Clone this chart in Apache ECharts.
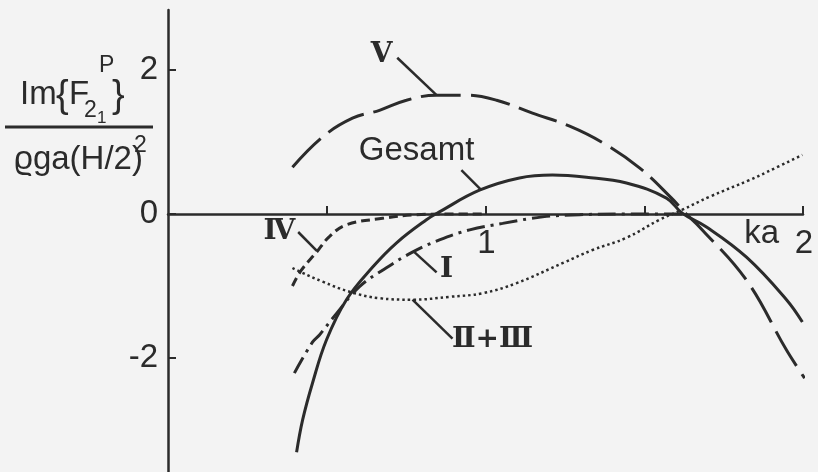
<!DOCTYPE html>
<html>
<head>
<meta charset="utf-8">
<script src="https://cdn.jsdelivr.net/npm/echarts@6/dist/echarts.min.js"></script>
<style>
  html, body { margin: 0; padding: 0; background: #f3f3f3; }
  #chart { width: 818px; height: 472px; }
</style>
</head>
<body>
<div id="chart"></div>
<script>
// Wave number ka and normalised imaginary part of the force component per contribution
const gesamtKa = [0.405, 0.424, 0.455, 0.499, 0.562, 0.644, 0.720, 0.814, 0.855, 0.981, 1.107, 1.211, 1.318, 1.444, 1.570, 1.620, 1.696, 1.822, 1.948, 1.998];
const gesamtIm = [-3.31, -2.86, -2.35, -1.75, -1.19, -0.74, -0.40, -0.08, 0.03, 0.33, 0.50, 0.54, 0.51, 0.43, 0.22, 0.01, -0.18, -0.60, -1.19, -1.50];

const vKa = [0.392, 0.487, 0.581, 0.666, 0.751, 0.846, 0.940, 1.035, 1.148, 1.265, 1.369, 1.485, 1.586, 1.630, 1.674, 1.822, 1.948, 2.005];
const vIm = [0.65, 1.07, 1.33, 1.44, 1.58, 1.65, 1.65, 1.58, 1.40, 1.22, 0.99, 0.64, 0.22, 0.01, -0.18, -0.92, -1.89, -2.28];

const ivKa = [0.392, 0.420, 0.468, 0.509, 0.562, 0.676, 0.783, 0.887, 1.0];
const ivIm = [-1.00, -0.78, -0.53, -0.31, -0.15, -0.06, -0.01, 0.0, 0.0];

const iKa = [0.398, 0.455, 0.477, 0.531, 0.603, 0.676, 0.770, 0.855, 0.950, 1.054, 1.180, 1.296, 1.422, 1.620];
const iIm = [-2.21, -1.78, -1.68, -1.38, -1.01, -0.78, -0.53, -0.36, -0.22, -0.13, -0.04, -0.01, 0.0, 0.0];

const iiiiiKa = [0.392, 0.420, 0.487, 0.572, 0.666, 0.770, 0.887, 0.991, 1.098, 1.249, 1.337, 1.444, 1.548, 1.620, 1.706, 1.831, 1.885, 1.998];
const iiiiiIm = [-0.75, -0.81, -0.94, -1.08, -1.17, -1.19, -1.15, -1.10, -0.96, -0.67, -0.50, -0.33, -0.08, 0.06, 0.24, 0.47, 0.58, 0.82];

const xTicks = [0.5, 1, 1.5, 2];
const xTickLabels = [1, 2];
const yTicks = [-2, 0, 2];

const ink = '#2b2b2b';
const sans = "'Liberation Sans', 'DejaVu Sans', sans-serif";
const roman = "'DejaVu Serif', 'Liberation Serif', serif";

const pairs = (xs, ys) => xs.map((x, i) => [x, ys[i]]);

// Curve labels with their leader lines, in data coordinates
const annotations = [
  { text: 'Ⅴ', at: [0.673, 2.21], from: [0.722, 2.17], to: [0.846, 1.65], font: roman },
  { text: 'Gesamt', at: [0.783, 0.875], from: [0.924, 0.61], to: [0.987, 0.33], font: sans },
  { text: 'Ⅳ', at: [0.351, -0.25], from: [0.410, -0.25], to: [0.468, -0.51], font: roman },
  { text: 'Ⅰ', at: [0.877, -0.78], from: [0.776, -0.53], to: [0.846, -0.81], font: roman },
  { text: 'Ⅱ+Ⅲ', at: [1.022, -1.75], from: [0.770, -1.19], to: [0.896, -1.73], font: roman }
];

const chart = echarts.init(document.getElementById('chart'), null, { renderer: 'canvas' });

const lineSeries = (name, xs, ys, type, width) => ({
  name,
  type: 'line',
  data: pairs(xs, ys),
  smooth: 0.4,
  showSymbol: false,
  silent: true,
  clip: false,
  lineStyle: { color: ink, width: width, type: type, cap: 'butt' },
  z: 3
});

chart.setOption({
  backgroundColor: '#f3f3f3',
  animation: false,
  grid: { left: 168, right: 15, top: 10, bottom: 0, containLabel: false, outerBoundsMode: 'none' },
  xAxis: {
    type: 'value',
    min: 0,
    max: 2,
    axisLine: { onZero: true, lineStyle: { color: ink, width: 2.5 } },
    axisTick: { show: true, inside: true, length: 8, customValues: xTicks, lineStyle: { color: ink, width: 2 } },
    axisLabel: { show: false },
    splitLine: { show: false }
  },
  yAxis: {
    type: 'value',
    min: -3.583,
    max: 2.833,
    axisLine: { show: true, lineStyle: { color: ink, width: 2.5 } },
    axisTick: { show: true, inside: true, length: 8, customValues: yTicks, lineStyle: { color: ink, width: 2 } },
    axisLabel: {
      customValues: yTicks, margin: 10, fontSize: 33, fontFamily: sans, color: ink,
      formatter: v => (v < 0 ? '-' + Math.abs(v) : String(v))
    },
    splitLine: { show: false }
  },
  series: [
    lineSeries('Gesamt', gesamtKa, gesamtIm, 'solid', 3),
    lineSeries('V', vKa, vIm, [40, 10], 3),
    lineSeries('IV', ivKa, ivIm, [9, 5], 3),
    lineSeries('I', iKa, iIm, [18, 6, 3, 6], 3),
    lineSeries('II+III', iiiiiKa, iiiiiIm, [2.5, 3], 2.5)
  ]
});

function drawAnnotations() {
  const px = p => chart.convertToPixel({ gridIndex: 0 }, p);
  const elements = [];
  const txt = (text, x, y, font, align) => ({
    type: 'text', silent: true, x, y,
    style: { text, fill: ink, font, align: align || 'center', verticalAlign: 'middle' }
  });

  annotations.forEach(a => {
    const c = px(a.at), f = px(a.from), t = px(a.to);
    elements.push({
      type: 'line', silent: true,
      shape: { x1: f[0], y1: f[1], x2: t[0], y2: t[1] },
      style: { stroke: ink, lineWidth: 2.5 }
    });
    elements.push(txt(a.text, c[0], c[1], (a.font === roman ? 'bold 28px ' : '33px ') + a.font));
  });

  // x tick labels sit just below the zero line
  xTickLabels.forEach(v => {
    const p = px([v, 0]);
    elements.push(txt(String(v), p[0] + 1, p[1] + 30, '33px ' + sans));
  });
  const kaPos = px([1.87, 0]);
  elements.push(txt('ka', kaPos[0], kaPos[1] + 20, '33px ' + sans));

  // Axis title: Im{F21P} / ϱga(H/2)²
  elements.push(txt('Im', 20, 95, '33px ' + sans, 'left'));
  elements.push(txt('{', 56, 97, '38px ' + sans, 'left'));
  elements.push(txt('F', 69, 95, '33px ' + sans, 'left'));
  elements.push(txt('P', 99, 66, '23px ' + sans, 'left'));
  elements.push(txt('2', 84, 111, '23px ' + sans, 'left'));
  elements.push(txt('1', 97, 118, '17px ' + sans, 'left'));
  elements.push(txt('}', 112, 97, '38px ' + sans, 'left'));
  elements.push({
    type: 'line', silent: true,
    shape: { x1: 5, y1: 127, x2: 153, y2: 127 },
    style: { stroke: ink, lineWidth: 3 }
  });
  elements.push(txt('ϱga(H/2)', 14, 160, '33px ' + sans, 'left'));
  elements.push(txt('2', 134, 146, '23px ' + sans, 'left'));

  chart.setOption({ graphic: { elements } });
}
drawAnnotations();
</script>
</body>
</html>
